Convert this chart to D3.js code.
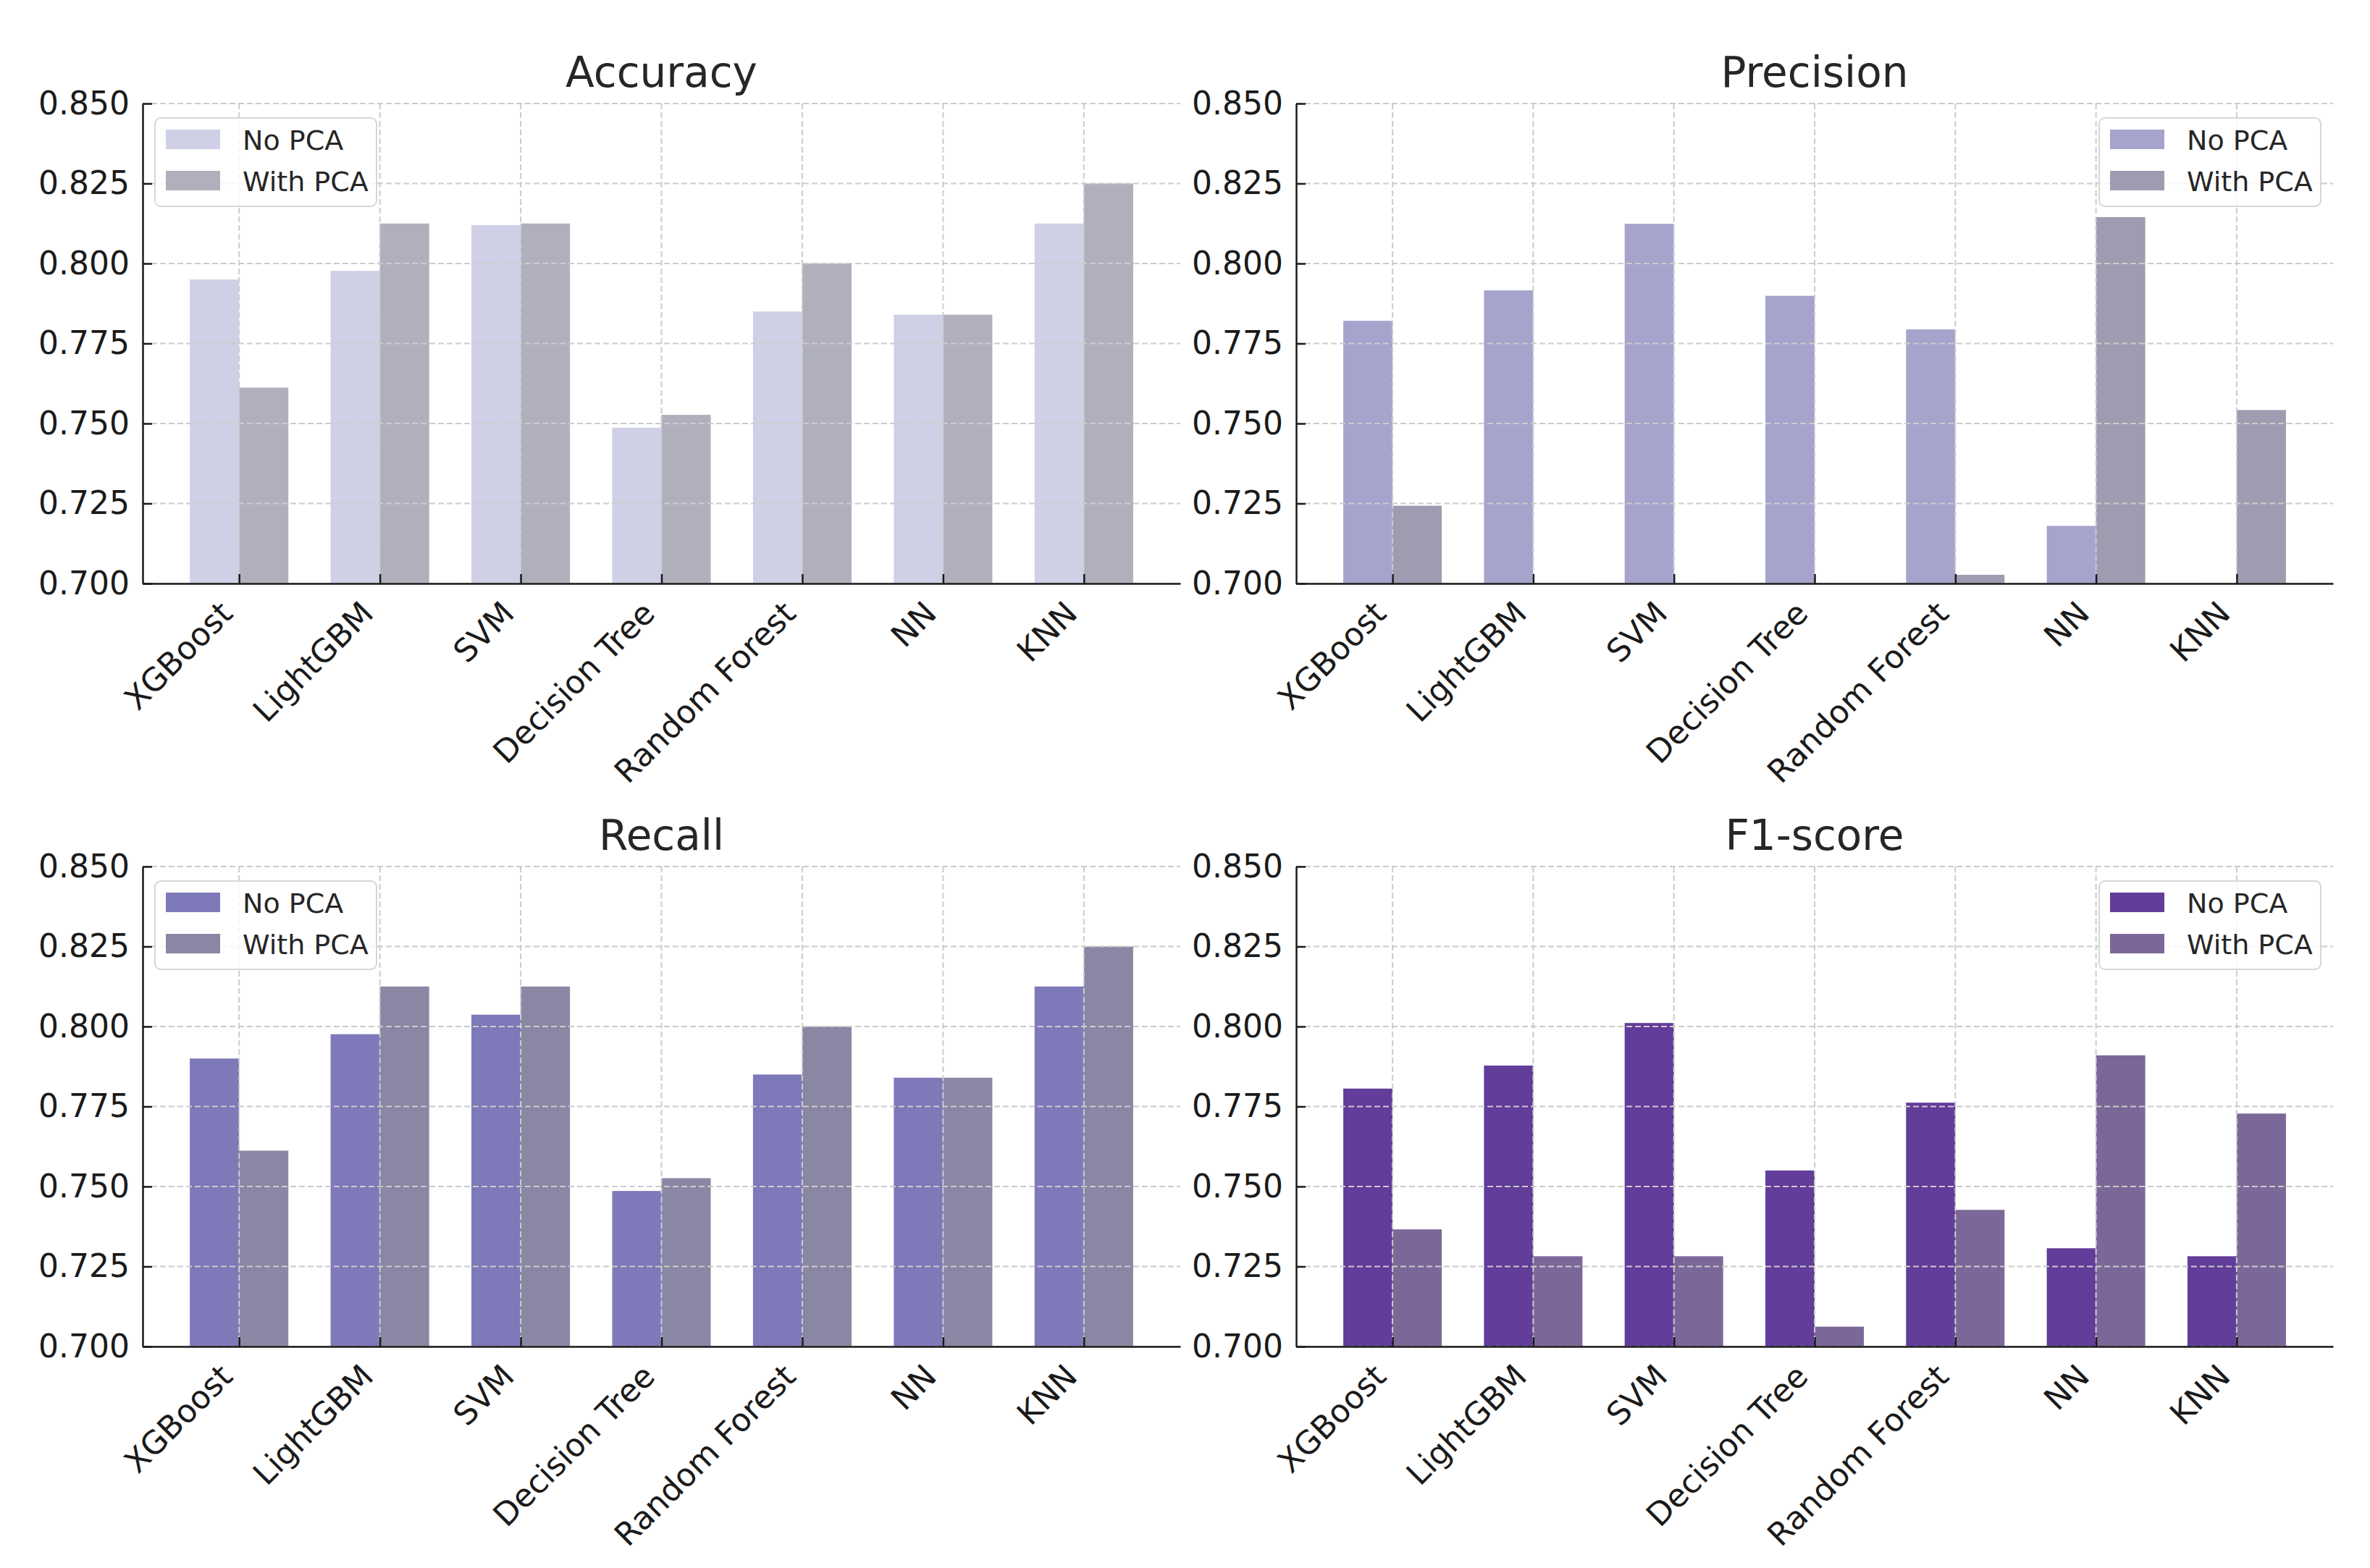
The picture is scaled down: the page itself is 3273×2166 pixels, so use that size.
<!DOCTYPE html>
<html>
<head>
<meta charset="utf-8">
<script src="https://cdn.jsdelivr.net/npm/d3@7"></script>
<style>
  body { margin: 0; background: #fff; }
  svg { display: block; font-family: "DejaVu Sans", sans-serif; }
</style>
</head>
<body>
<div id="chart"></div>
<script>
// model names on the x axis
const models = ['XGBoost', 'LightGBM', 'SVM', 'Decision Tree', 'Random Forest', 'NN', 'KNN'];
const seriesNames = ['No PCA', 'With PCA'];
const yTicks = [0.700, 0.725, 0.750, 0.775, 0.800, 0.825, 0.850];

// values (values under 0.700 are clipped away)
const accuracyNoPca   = [0.795, 0.7977, 0.812, 0.7487, 0.785, 0.784, 0.8125];
const accuracyWithPca = [0.7612, 0.8125, 0.8125, 0.7527, 0.800, 0.784, 0.825];
const precisionNoPca   = [0.7821, 0.7916, 0.8124, 0.7899, 0.7794, 0.718, 0.690];
const precisionWithPca = [0.7243, 0.690, 0.690, 0.690, 0.7027, 0.8145, 0.7542];
const recallNoPca   = [0.790, 0.7976, 0.8037, 0.7486, 0.785, 0.784, 0.8125];
const recallWithPca = [0.7612, 0.8125, 0.8125, 0.7526, 0.800, 0.784, 0.825];
const f1NoPca   = [0.7806, 0.7878, 0.8011, 0.7550, 0.7762, 0.7307, 0.7282];
const f1WithPca = [0.7366, 0.7282, 0.7282, 0.7062, 0.7427, 0.791, 0.7728];

var fig = {
	w: 3273,
	h: 2166,
	cols: [{l: 197, r: 1630}, {l: 1790, r: 3222}],
	rows: [{t: 143, b: 806}, {t: 1197, b: 1860}],
	svg: null
}

var panels = [
	{title: 'Accuracy',  data: [accuracyNoPca, accuracyWithPca],   colors: ['#cfd0e6', '#b0b0bd'], col: 0, row: 0, legend: 'left'},
	{title: 'Precision', data: [precisionNoPca, precisionWithPca], colors: ['#a6a4cd', '#9e9cb0'], col: 1, row: 0, legend: 'right'},
	{title: 'Recall',    data: [recallNoPca, recallWithPca],       colors: ['#7e79b9', '#8a87a4'], col: 0, row: 1, legend: 'left'},
	{title: 'F1-score',  data: [f1NoPca, f1WithPca],               colors: ['#623d9a', '#7c6898'], col: 1, row: 1, legend: 'right'}
];

function initFig() {
	fig.svg = d3.select('#chart').append('svg')
				.attr('width', fig.w)
				.attr('height', fig.h)
				.attr('viewBox', '0 0 ' + fig.w + ' ' + fig.h);
}

function drawPanel(p) {
	var box = fig.cols[p.col], rows = fig.rows[p.row];
	var g = fig.svg.append('g');

	var x_scale = d3.scalePoint()
					.domain(models)
					.range([box.l, box.r])
					.padding(0.685);
	var step = x_scale.step();
	var barW = 0.35 * step;

	var y_scale = d3.scaleLinear()
					.domain([0.7, 0.85])
					.range([rows.b, rows.t])
					.clamp(true);

	// bars
	p.data.forEach(function(vals, s) {
		g.append('g')
			.selectAll('rect')
			.data(vals)
			.enter()
			.append('rect')
				.attr('x', (d, i) => x_scale(models[i]) + (s === 0 ? -barW : 0))
				.attr('y', d => y_scale(d))
				.attr('width', barW)
				.attr('height', d => rows.b - y_scale(d))
				.attr('fill', p.colors[s]);
	});

	// grid over the bars, like matplotlib does
	var grid = g.append('g')
			.attr('stroke', '#cccccc')
			.attr('stroke-width', 2)
			.attr('stroke-dasharray', '8,4');
	grid.selectAll('line.h')
		.data(yTicks)
		.enter().append('line')
			.attr('x1', box.l).attr('x2', box.r)
			.attr('y1', d => y_scale(d)).attr('y2', d => y_scale(d));
	grid.selectAll('line.v')
		.data(models)
		.enter().append('line')
			.attr('x1', d => x_scale(d)).attr('x2', d => x_scale(d))
			.attr('y1', rows.t).attr('y2', rows.b);

	var y_axis = d3.axisLeft(y_scale)
					.tickValues(yTicks)
					.tickFormat(d3.format('.3f'))
					.tickSizeInner(-13)
					.tickSizeOuter(0)
					.tickPadding(18);

	var x_axis = d3.axisBottom(x_scale)
					.tickSizeInner(-13)
					.tickSizeOuter(0);

	g.append('g')
			.attr('class', 'axis y')
			.attr('transform', 'translate(' + box.l + ',0)')
		.call(y_axis)
		.attr('font-family', '"DejaVu Sans", sans-serif')
		.attr('font-size', 44)
		.call(a => a.selectAll('line, path').attr('stroke', '#1a1a1a').attr('stroke-width', 2.5))
		.call(a => a.selectAll('text').attr('fill', '#1a1a1a'));

	g.append('g')
			.attr('class', 'axis x')
			.attr('transform', 'translate(0,' + rows.b + ')')
		.call(x_axis)
		.attr('font-family', '"DejaVu Sans", sans-serif')
		.attr('font-size', 44)
		.call(a => a.selectAll('line, path').attr('stroke', '#1a1a1a').attr('stroke-width', 2.5))
		.call(a => a.selectAll('text')
			.attr('fill', '#1a1a1a')
			.attr('x', 0).attr('y', 0).attr('dy', null)
			.attr('text-anchor', 'end')
			.attr('transform', 'translate(-7,44) rotate(-45)'));

	// title
	g.append('text')
			.attr('x', (box.l + box.r) / 2)
			.attr('y', rows.t - 23)
			.attr('text-anchor', 'middle')
			.attr('font-size', 58)
			.attr('fill', '#262626')
			.text(p.title);

	// legend
	var lw = 306, lh = 122;
	var lx = p.legend === 'left' ? box.l + 17 : box.r - 17 - lw;
	var lg = g.append('g').attr('transform', 'translate(' + lx + ',' + (rows.t + 20) + ')');
	lg.append('rect')
		.attr('width', lw).attr('height', lh)
		.attr('rx', 8)
		.attr('fill', 'white').attr('fill-opacity', 0.8)
		.attr('stroke', '#d6d6d6').attr('stroke-width', 2);
	seriesNames.forEach(function(name, s) {
		lg.append('rect')
			.attr('x', 15).attr('y', 16 + s * 57)
			.attr('width', 75).attr('height', 27)
			.attr('fill', p.colors[s]);
		lg.append('text')
			.attr('x', 121).attr('y', 44 + s * 57)
			.attr('font-size', 38)
			.attr('fill', '#262626')
			.text(name);
	});
}

initFig();
panels.forEach(drawPanel);
</script>
</body>
</html>
